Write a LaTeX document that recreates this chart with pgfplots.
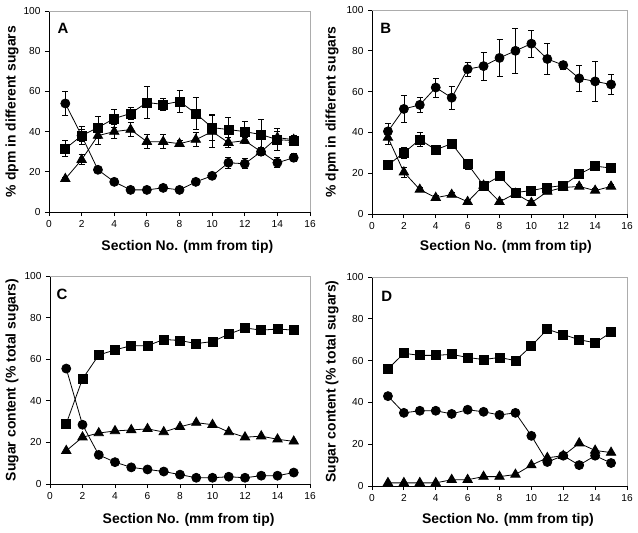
\documentclass[border=0pt]{standalone}
\usepackage{fontspec}
\setmainfont{Liberation Sans}
\usepackage{pgfplots}
\pgfplotsset{compat=1.18}
\usepackage{pgfplotstable}

\pgfplotstableread{
x y e
1 54 6
2 38 3
3 21 1
4 15 1
5 11 1
6 11 1
7 12 1
8 11 1
9 15 1
10 18 1
11 24.5 2.8
12 24 2.5
13 30 2
14 24.5 2.5
15 27 2
}\Acirc
\pgfplotstableread{
x y e
1 31.5 4
2 38 4.5
3 42 5.5
4 46.5 4.5
5 49 3
6 54.5 8
7 53.5 3
8 55 5.5
9 49 8
10 42 6.5
11 41 6
12 40 5
13 38.5 7.5
14 36 5.5
15 35.5 2.5
}\Asq
\pgfplotstableread{
x y e
1 16.5 1
2 26 2.5
3 38 4.5
4 40 3.5
5 41 3.5
6 35 3.5
7 35 3.5
8 34 1.5
9 36 3.5
10 40 8
11 34.5 2.5
12 35.5 1.5
13 30 2
14 37 3
15 36 2
}\Atri
\pgfplotstableread{
x y e
1 40.5 4
2 51.5 6.5
3 53.5 3.5
4 62 4.75
5 57 5.5
6 71 3.3
7 72.5 7
8 76.5 9
9 80 11.2
10 83.5 6.5
11 76 7.5
12 73 2
13 66.5 6.3
14 65 9.7
15 63.5 5
}\Bcirc
\pgfplotstableread{
x y e
1 24 1
2 30 2.7
3 36.5 3.5
4 31.5 1
5 34.5 1
6 24.5 2.5
7 14 1
8 18.5 1
9 10.5 1
10 11.5 1
11 13 1
12 14 1
13 19.5 1
14 23.5 1
15 22.5 1
}\Bsq
\pgfplotstableread{
x y e
1 37.5 3.5
2 20.5 2.5
3 12 1
4 8 1
5 9.5 1
6 6 1
7 14 1
8 6 1
9 10 1
10 5.5 1
11 11 1
12 13 1
13 13.5 1
14 11.5 1
15 13.5 1
}\Btri
\pgfplotstableread{
x y
1 29
2 50.5
3 62
4 64.5
5 66.5
6 66.5
7 69.5
8 69
9 67.5
10 68.5
11 72
12 75
13 74
14 74.5
15 74
}\Csq
\pgfplotstableread{
x y
1 55.5
2 28.5
3 14
4 10.5
5 8
6 7
7 6
8 4.5
9 3
10 3
11 3.5
12 3
13 4
14 4
15 5.5
}\Ccirc
\pgfplotstableread{
x y
1 16
2 22.5
3 24.5
4 25.5
5 26
6 26.5
7 25
8 27.5
9 29.5
10 28.5
11 25
12 22.5
13 23
14 21.5
15 20.5
}\Ctri
\pgfplotstableread{
x y
1 56
2 63.5
3 62.5
4 62.5
5 63
6 61.5
7 60.5
8 61.5
9 60
10 67
11 75
12 72.5
13 70
14 68.5
15 73.5
}\Dsq
\pgfplotstableread{
x y
1 43
2 35
3 36
4 36
5 34.5
6 36.5
7 35.5
8 34
9 35
10 24
11 11.5
12 14.5
13 10
14 14.5
15 11
}\Dcirc
\pgfplotstableread{
x y
1 1.5
2 1.5
3 1.5
4 1.5
5 3
6 3
7 4.5
8 4.5
9 5.5
10 10
11 13.5
12 14.5
13 20.5
14 17
15 16
}\Dtri

\tikzset{letter/.style={font=\bfseries\fontsize{15}{15}\selectfont, anchor=center}}
\newcommand{\labfont}{\bfseries\fontsize{14}{15}\selectfont}
\pgfplotsset{
  panel/.style={
    scale only axis,
    xmin=0, xmax=16, ymin=0, ymax=100,
    xtick={0,2,...,16}, ytick={0,20,...,100},
    axis x line*=bottom, axis y line*=left,
    axis line style={-, black, line width=0.8bp},
    tick align=outside, major tick length=4bp,
    tick style={black, line width=0.8bp},
    minor tick num=0,
    /pgf/number format/assume math mode=true,
    tick label style={font=\fontsize{10.2}{11}\selectfont},
    xticklabel style={yshift=-1bp},
    yticklabel style={xshift=-1bp},
    xlabel={Section No. (mm from tip)},
    clip=false,
    execute at begin axis={\draw[gray!65, line width=0.8bp] (rel axis cs:0,1) -- (rel axis cs:1,1) -- (rel axis cs:1,0);},
  },
  sq/.style={black, line width=0.8bp, mark=square*, mark size=4.5bp, mark options={fill=black, solid}},
  ci/.style={black, line width=0.8bp, mark=*, mark size=4.5bp, mark options={fill=black, solid}},
  tr/.style={black, line width=0.8bp, mark=triangle*, mark size=5.4bp, mark options={fill=black, solid}},
  eb/.style={error bars/.cd, y dir=both, y explicit, error bar style={black, line width=0.6bp}, error mark options={rotate=90, black, mark size=3bp, line width=0.6bp}},
}

\begin{document}
\begin{tikzpicture}
\path[use as bounding box] (0bp,0bp) rectangle (638bp,-533bp);

% Panel A
\begin{axis}[panel, at={(49bp,-212bp)}, anchor=south west, width=261bp, height=201bp,
  ylabel={\% dpm in different sugars},
  every axis y label/.style={at={(axis description cs:-0.142,0.5)}, rotate=90, anchor=center, font=\labfont},
  every axis x label/.style={at={(axis description cs:0.53,-0.174)}, anchor=center, font=\labfont}]
\addplot[sq, eb] table[x=x, y=y, y error=e] {\Asq};
\addplot[tr, eb] table[x=x, y=y, y error=e] {\Atri};
\addplot[ci, eb] table[x=x, y=y, y error=e] {\Acirc};
\node[letter] at (axis description cs:0.054,0.914) {A};
\end{axis}

% Panel B
\begin{axis}[panel, at={(372bp,-214bp)}, anchor=south west, width=255bp, height=204bp,
  ylabel={\% dpm in different sugars},
  every axis y label/.style={at={(axis description cs:-0.157,0.5)}, rotate=90, anchor=center, font=\labfont},
  every axis x label/.style={at={(axis description cs:0.525,-0.162)}, anchor=center, font=\labfont}]
\addplot[sq, eb] table[x=x, y=y, y error=e] {\Bsq};
\addplot[tr, eb] table[x=x, y=y, y error=e] {\Btri};
\addplot[ci, eb] table[x=x, y=y, y error=e] {\Bcirc};
\node[letter] at (axis description cs:0.054,0.912) {B};
\end{axis}

% Panel C
\begin{axis}[panel, at={(50bp,-484bp)}, anchor=south west, width=260bp, height=208bp,
  ylabel={Sugar content (\% total sugars)},
  every axis y label/.style={at={(axis description cs:-0.146,0.5)}, rotate=90, anchor=center, font=\labfont},
  every axis x label/.style={at={(axis description cs:0.533,-0.173)}, anchor=center, font=\labfont}]
\addplot[sq] table[x=x, y=y] {\Csq};
\addplot[tr] table[x=x, y=y] {\Ctri};
\addplot[ci] table[x=x, y=y] {\Ccirc};
\node[letter] at (axis description cs:0.046,0.913) {C};
\end{axis}

% Panel D
\begin{axis}[panel, at={(372bp,-486bp)}, anchor=south west, width=255bp, height=209bp,
  ylabel={Sugar content (\% total sugars)},
  every axis y label/.style={at={(axis description cs:-0.157,0.5)}, rotate=90, anchor=center, font=\labfont},
  every axis x label/.style={at={(axis description cs:0.533,-0.163)}, anchor=center, font=\labfont}]
\addplot[sq] table[x=x, y=y] {\Dsq};
\addplot[tr] table[x=x, y=y] {\Dtri};
\addplot[ci] table[x=x, y=y] {\Dcirc};
\node[letter] at (axis description cs:0.058,0.906) {D};
\end{axis}
\end{tikzpicture}
\end{document}
